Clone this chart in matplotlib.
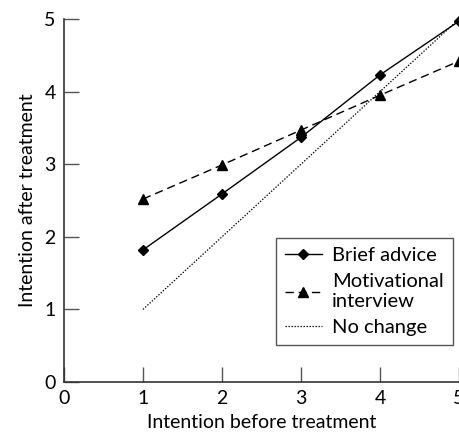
import matplotlib
matplotlib.use("Agg")
import matplotlib.pyplot as plt

x_before = [1, 2, 3, 4, 5]
brief_advice = [1.82, 2.59, 3.37, 4.23, 4.97]
motivational = [2.52, 2.99, 3.47, 3.95, 4.42]
no_change = [1, 2, 3, 4, 5]
ticks = [0, 1, 2, 3, 4, 5]

plt.rcParams['font.family'] = ['Lato', 'DejaVu Sans']

fig = plt.figure(figsize=(4.6, 4.34), dpi=100)
ax = fig.add_axes([64/460, 1-382/434, 395/460, (382-19)/434])

ax.plot(x_before, brief_advice, '-', color='black', lw=1.0, marker='D', ms=5.3,
        label='Brief advice', clip_on=False)
ax.plot(x_before, motivational, '--', color='black', lw=1.0, marker='^', ms=6.5,
        dashes=(6, 3.5), label='Motivational\ninterview', clip_on=False)
ax.plot(x_before, no_change, color='black', lw=0.9, dashes=(1.1, 1.3),
        label='No change')

ax.set_xlim(0, 5)
ax.set_ylim(0, 5)
ax.set_xticks(ticks)
ax.set_yticks(ticks)
ax.spines['top'].set_visible(False)
ax.spines['right'].set_visible(False)
for s in ['left', 'bottom']:
    ax.spines[s].set_color('#333333')
    ax.spines[s].set_linewidth(1.2)
ax.tick_params(direction='in', length=10.5, width=1.0, color='#555555',
               labelsize=14, pad=6)
ax.set_xlabel('Intention before treatment', fontsize=14, labelpad=5)
ax.set_ylabel('Intention after treatment', fontsize=14, labelpad=6)

leg = ax.legend(loc='lower right', bbox_to_anchor=(0.995, 0.09), fontsize=14.5,
                fancybox=False, edgecolor='#555555', framealpha=1,
                handlelength=1.85, borderpad=0.45, labelspacing=0.45,
                handletextpad=0.5, borderaxespad=0.2)
leg.get_frame().set_linewidth(1.0)

fig.savefig('out.png', dpi=100)
